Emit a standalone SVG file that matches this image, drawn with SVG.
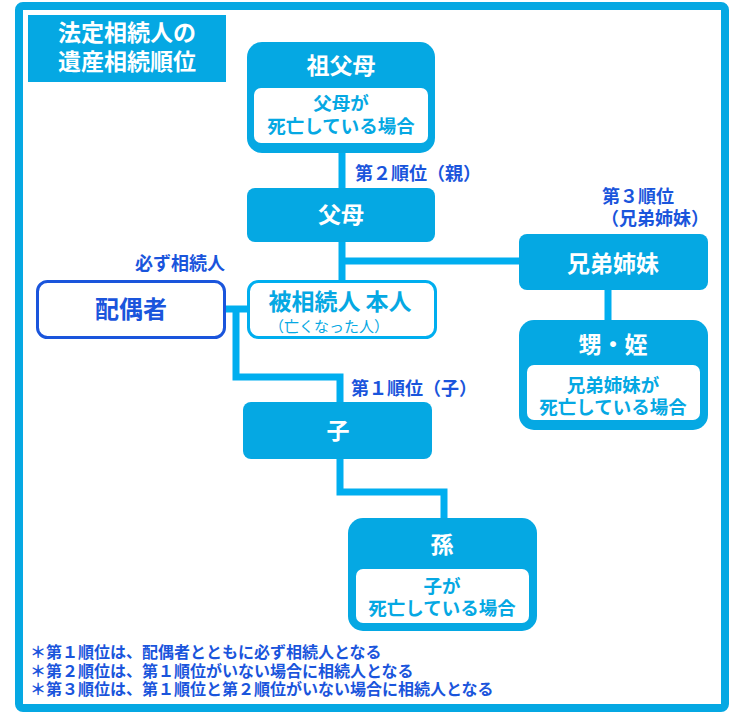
<svg xmlns="http://www.w3.org/2000/svg" width="742" height="717" viewBox="0 0 742 717">
<style>
text{font-family:"Noto Sans CJK JP","Noto Sans",sans-serif;font-weight:bold}
.hd{fill:#fff;font-size:23px;text-anchor:middle}
.in{fill:#05a8e3;font-size:18.5px;text-anchor:middle}
.lb{fill:#1a55dc;font-size:18px}
.fn{fill:#1a55dc;font-size:16px}
.box{fill:#05a8e3}
.inner{fill:#fff}
.con{fill:none;stroke:#00aeef;stroke-width:7;stroke-linejoin:miter}
</style>
<rect x="19" y="6" width="706" height="702" rx="4" fill="#fff" stroke="#05a8e3" stroke-width="8"/>
<g id="title">
<rect x="28" y="15" width="198" height="67" fill="#05a8e3"/>
<text x="127" y="41" class="hd">法定相続人の</text>
<text x="127" y="70" class="hd">遺産相続順位</text>
</g>
<g id="connectors">
<path class="con" d="M342 150 V190"/>
<path class="con" d="M342 240 V283"/>
<path class="con" d="M342 261 H522"/>
<path class="con" d="M608 288 V322"/>
<path class="con" d="M223 309 H249"/>
<path class="con" d="M236 309 V377 H340 V404"/>
<path class="con" d="M340 457 V492 H444 V520"/>
</g>
<g id="grandparents">
<rect class="box" x="247" y="42" width="188" height="111" rx="15"/>
<rect class="inner" x="254" y="88" width="174" height="55" rx="7"/>
<text x="341" y="74" class="hd">祖父母</text>
<text x="341" y="110" class="in">父母が</text>
<text x="341" y="133" class="in">死亡している場合</text>
</g>
<g id="label2">
<text x="355" y="180" class="lb">第２順位（親）</text>
</g>
<g id="parents">
<rect class="box" x="247" y="188" width="188" height="54" rx="8"/>
<text x="341" y="223" class="hd">父母</text>
</g>
<g id="label3">
<text x="602" y="203" class="lb">第３順位</text>
<text x="601" y="225" class="lb">（兄弟姉妹）</text>
</g>
<g id="siblings">
<rect class="box" x="519" y="234" width="189" height="56" rx="8"/>
<text x="613" y="272" class="hd">兄弟姉妹</text>
</g>
<g id="spouse-label">
<text x="225" y="270" class="lb" text-anchor="end">必ず相続人</text>
</g>
<g id="spouse">
<rect x="37.5" y="281.5" width="187" height="56" rx="10" fill="#fff" stroke="#1a55dc" stroke-width="3"/>
<text x="131" y="318" class="hd" style="fill:#1a55dc;font-size:24px">配偶者</text>
</g>
<g id="deceased">
<rect x="248.5" y="281.5" width="187" height="56" rx="10" fill="#fff" stroke="#00aeef" stroke-width="3"/>
<text x="340" y="310" class="hd" style="fill:#05a8e3">被相続人 本人</text>
<text x="329" y="332" style="fill:#05a8e3;font-size:15px;font-weight:normal;text-anchor:middle">（亡くなった人）</text>
</g>
<g id="nephews">
<rect class="box" x="519" y="320" width="189" height="110" rx="15"/>
<rect class="inner" x="527" y="365" width="173" height="55" rx="7"/>
<text x="613" y="353" class="hd">甥・姪</text>
<text x="613" y="392" class="in">兄弟姉妹が</text>
<text x="613" y="414" class="in">死亡している場合</text>
</g>
<g id="label1">
<text x="351" y="395" class="lb">第１順位（子）</text>
</g>
<g id="child">
<rect class="box" x="243" y="402" width="189" height="57" rx="8"/>
<text x="338" y="439" class="hd">子</text>
</g>
<g id="grandchild">
<rect class="box" x="348" y="518" width="189" height="113" rx="15"/>
<rect class="inner" x="356" y="569" width="173" height="54" rx="7"/>
<text x="442" y="553" class="hd">孫</text>
<text x="442" y="593" class="in">子が</text>
<text x="442" y="615" class="in">死亡している場合</text>
</g>
<g id="notes">
<text x="30" y="658" class="fn">＊第１順位は、配偶者とともに必ず相続人となる</text>
<text x="30" y="677" class="fn">＊第２順位は、第１順位がいない場合に相続人となる</text>
<text x="30" y="695" class="fn">＊第３順位は、第１順位と第２順位がいない場合に相続人となる</text>
</g>
</svg>
